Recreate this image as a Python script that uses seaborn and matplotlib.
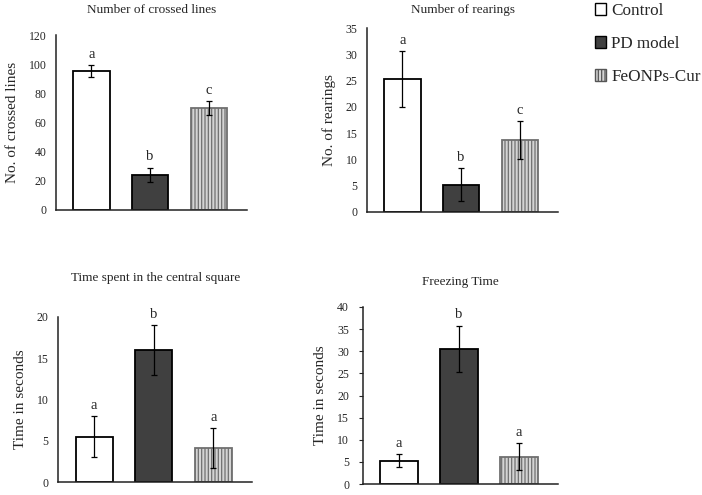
import matplotlib
matplotlib.use("Agg")
import matplotlib.pyplot as plt
from matplotlib.patches import Patch
import seaborn as sns
import pandas as pd

groups = ["Control", "PD model", "FeONPs-Cur"]

crossed_lines = [95.5, 24.0, 70.0]
crossed_err = [4.0, 5.0, 5.0]
crossed_sig = ["a", "b", "c"]

rearings = [25.3, 5.2, 13.7]
rearings_err = [5.3, 3.2, 3.6]
rearings_sig = ["a", "b", "c"]

central_time = [5.5, 16.0, 4.1]
central_err = [2.5, 3.0, 2.4]
central_sig = ["a", "b", "a"]

freezing_time = [5.3, 30.6, 6.2]
freezing_err = [1.5, 5.2, 3.0]
freezing_sig = ["a", "b", "a"]

colors = ["#ffffff", "#404040", "#d4d4d4"]

sns.set_style("white")
plt.rcParams["font.family"] = ["Liberation Serif", "DejaVu Serif"]
plt.rcParams["hatch.linewidth"] = 0.9


def bar_panel(ax, values, errs, sig, title, ylabel, ymax, ystep, title_pad, ticklen=0):
    df = pd.DataFrame({"group": groups, "value": values})
    sns.barplot(data=df, x="group", y="value", hue="group", palette=colors,
                order=groups, hue_order=groups, errorbar=None, legend=False,
                width=0.62, ax=ax, saturation=1)
    for i, p in enumerate(ax.patches):
        p.set_edgecolor("black")
        p.set_linewidth(1.3)
        if i == 2:
            p.set_hatch("|||||")
            p.set_edgecolor("#707070")
    xs = [p.get_x() + p.get_width() / 2 for p in ax.patches]
    ax.errorbar(xs, values, yerr=errs, fmt="none", ecolor="black",
                elinewidth=0.9, capsize=2.2, capthick=0.9)
    for x, v, e, s in zip(xs, values, errs, sig):
        ax.annotate(s, (x, v + e), xytext=(0, 3), textcoords="offset points",
                    ha="center", va="bottom", fontsize=10.5)
    ax.set_xlim(-0.6, 2.65)
    ax.set_ylim(0, ymax)
    ax.set_yticks(range(0, ymax + 1, ystep))
    ax.set_xticks([])
    ax.set_xlabel("")
    ax.set_ylabel(ylabel, fontsize=11, labelpad=7)
    ax.set_title(title, fontsize=9.5, pad=title_pad)
    ax.tick_params(axis="y", labelsize=8.5, length=ticklen, width=0.8, pad=7, left=ticklen > 0)
    sns.despine(ax=ax)
    for sp in ["left", "bottom"]:
        ax.spines[sp].set_color("#222222")
        ax.spines[sp].set_linewidth(1.1)


fig = plt.figure(figsize=(7.02, 4.95), dpi=100)
ax1 = fig.add_axes([0.080, 0.576, 0.272, 0.353])
ax2 = fig.add_axes([0.523, 0.572, 0.272, 0.371])
ax3 = fig.add_axes([0.083, 0.026, 0.276, 0.334])
ax4 = fig.add_axes([0.517, 0.022, 0.278, 0.358])

bar_panel(ax1, crossed_lines, crossed_err, crossed_sig, "Number of crossed lines",
          "No. of crossed lines", 120, 20, 16)
bar_panel(ax2, rearings, rearings_err, rearings_sig, "Number of rearings",
          "No. of rearings", 35, 5, 11)
bar_panel(ax3, central_time, central_err, central_sig, "Time spent in the central square",
          "Time in seconds", 20, 5, 26)
bar_panel(ax4, freezing_time, freezing_err, freezing_sig, "Freezing Time",
          "Time in seconds", 40, 5, 16, ticklen=3)

handles = [Patch(facecolor=colors[0], edgecolor="black", linewidth=1.0),
           Patch(facecolor=colors[1], edgecolor="black", linewidth=1.0),
           Patch(facecolor=colors[2], edgecolor="#555555", linewidth=1.0, hatch="|||||")]
fig.legend(handles, groups, loc="upper left", bbox_to_anchor=(0.838, 1.008),
           frameon=False, fontsize=12.3, handlelength=0.65, handleheight=0.65,
           handletextpad=0.3, labelspacing=1.0, borderaxespad=0)

plt.savefig("out.png")
plt.close()
